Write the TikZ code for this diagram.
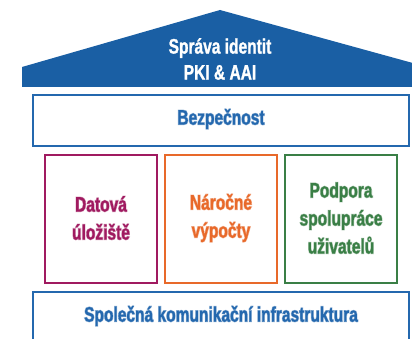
\documentclass[tikz,border=0pt]{standalone}
\usepackage{fontspec}
\setmainfont{Liberation Sans}[FakeStretch=0.74]
\newfontfamily\mainfont{Liberation Sans Bold}[FakeStretch=0.74, FakeBold=1.2]
\newfontfamily\halofont{Liberation Sans Bold}[FakeStretch=0.74, FakeBold=5]
\newfontfamily\whitefont{Liberation Sans Bold}[FakeStretch=0.74, FakeBold=3]
\definecolor{roofblue}{HTML}{1A5FA4}
\definecolor{boxblue}{HTML}{2468AE}
\definecolor{purp}{HTML}{A01A60}
\definecolor{oran}{HTML}{E8692A}
\definecolor{gree}{HTML}{3A7F46}
\tikzset{
  frame/.style={draw=#1, line width=2pt, fill=white},
  lbl/.style={font=\mainfont\fontsize{21}{28}\selectfont, align=center, text=#1},
  halo/.style={font=\halofont\fontsize{21}{28}\selectfont, align=center, text=#1!50},
  inner/.style={font=\whitefont\fontsize{21}{28}\selectfont, align=center, text=white},
}
\newcommand{\halotext}[4]{%
  \node[halo=#2] at (#3) {#4};
  \node[inner] at (#3) {#4};
  \node[lbl=#2] (#1) at (#3) {#4};
}
\begin{document}
\begin{tikzpicture}[x=1pt,y=-1pt]
\useasboundingbox (0,0) rectangle (412,339);
\clip (0,0) rectangle (412,339);
% roof
\fill[roofblue] (22,87) -- (22,67) -- (220,10) -- (420,65) -- (420,87) -- cycle;
\node[lbl=white, font=\mainfont\fontsize{21}{26}\selectfont] (roof) at (220,59) {Správa identit\\PKI \& AAI};
% security
\draw[frame=boxblue] (33,95) rectangle (409,146);
\halotext{sec}{boxblue}{221,119}{Bezpečnost}
% columns
\draw[frame=purp] (45,155) rectangle (157,283);
\halotext{data}{purp}{101,218}{Datová\\úložiště}
\draw[frame=oran] (165,155) rectangle (277,283);
\halotext{comp}{oran}{221,218}{Náročné\\výpočty}
\draw[frame=gree] (285,155) rectangle (397,283);
\halotext{coop}{gree}{341,218}{Podpora\\spolupráce\\uživatelů}
% infrastructure
\draw[frame=boxblue] (33,292) rectangle (409,350);
\halotext{infra}{boxblue}{221,316}{Společná komunikační infrastruktura}
\end{tikzpicture}
\end{document}
